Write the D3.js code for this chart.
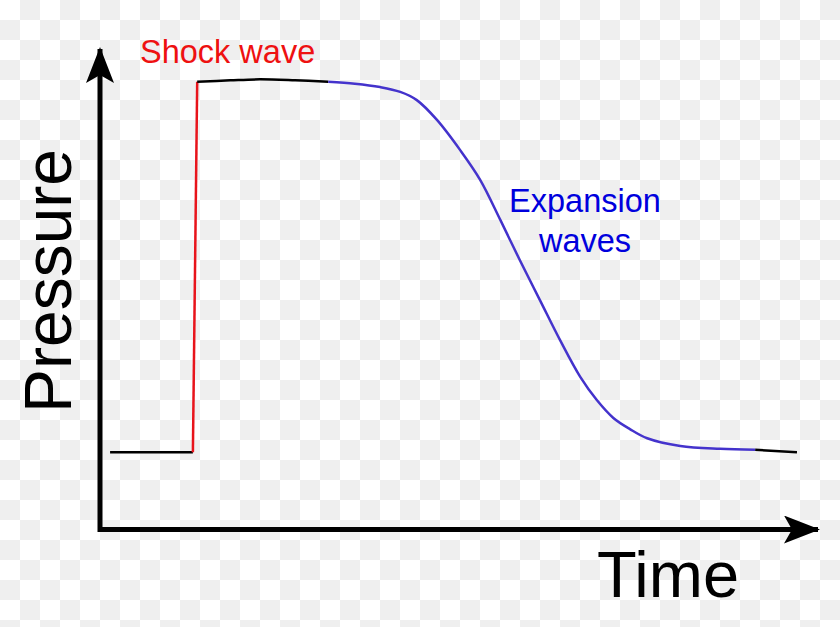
<!DOCTYPE html>
<html>
<head>
<meta charset="utf-8">
<script src="https://cdn.jsdelivr.net/npm/d3@7"></script>
<style>
  html, body { margin: 0; padding: 0; background: #fff; }
  svg { display: block; }
  text { font-family: "Liberation Sans", Arial, sans-serif; }
</style>
</head>
<body>
<div id="chart"></div>
<script>
// time / pressure (arbitrary units, 0..100)
const baseTime = [1.4, 12.9];
const basePressure = [16.1, 16.1];

const shockTime = [12.9, 13.5];
const shockPressure = [16.1, 92.8];

const plateauTime = [13.5, 18.1, 22.2, 27.1, 31.7];
const plateauPressure = [92.8, 93.1, 93.3, 93.1, 92.8];

const expansionTime = [31.7, 35.4, 38.9, 41.7, 44.0, 46.8, 50.0, 52.8, 55.6, 58.3, 61.1, 63.9, 66.7, 69.0, 71.3, 73.6, 76.0, 80.6, 86.1, 91.0];
const expansionPressure = [92.8, 92.4, 91.7, 90.7, 89.0, 84.9, 78.7, 72.5, 64.2, 55.9, 47.6, 39.3, 31.7, 26.9, 23.2, 20.9, 19.0, 17.4, 16.8, 16.6];

const tailTime = [91.0, 96.8];
const tailPressure = [16.6, 16.1];

const width = 840, height = 627;

const svg = d3.select("#chart")
  .append("svg")
  .attr("width", width)
  .attr("height", height);

// checkerboard backdrop, 20px cells
svg.append("rect").attr("width", width).attr("height", height).attr("fill", "#ffffff");
const cells = [];
for (let r = 0; r < Math.ceil(height / 20); r++) {
  for (let c = 0; c < Math.ceil(width / 20); c++) {
    if ((r + c) % 2 === 1) cells.push([c, r]);
  }
}
svg.append("g").selectAll("rect")
  .data(cells)
  .join("rect")
  .attr("x", d => d[0] * 20)
  .attr("y", d => d[1] * 20)
  .attr("width", 20)
  .attr("height", 20)
  .attr("fill", "#efefef");

const defs = svg.append("defs");

const x = d3.scaleLinear().domain([0, 100]).range([100, 820]);
const y = d3.scaleLinear().domain([0, 100]).range([530, 47]);

// arrow head
defs.append("marker")
  .attr("id", "arrowHead")
  .attr("viewBox", "0 0 36 28")
  .attr("refX", 34)
  .attr("refY", 14)
  .attr("markerWidth", 36)
  .attr("markerHeight", 28)
  .attr("markerUnits", "userSpaceOnUse")
  .attr("orient", "auto")
  .append("path")
  .attr("d", "M36,14 L0,0 L8,14 L0,28 Z")
  .attr("fill", "#000");

// axes
svg.append("line")
  .attr("x1", x(0)).attr("y1", y(0) - 0.5)
  .attr("x2", x(100) - 2).attr("y2", y(0) - 0.5)
  .attr("stroke", "#000").attr("stroke-width", 5)
  .attr("marker-end", "url(#arrowHead)");

svg.append("line")
  .attr("x1", x(0)).attr("y1", y(0) + 2)
  .attr("x2", x(0)).attr("y2", y(100) + 2)
  .attr("stroke", "#000").attr("stroke-width", 5)
  .attr("marker-end", "url(#arrowHead)");

const line = d3.line()
  .x(d => x(d[0]))
  .y(d => y(d[1]));

const smooth = d3.line()
  .x(d => x(d[0]))
  .y(d => y(d[1]))
  .curve(d3.curveCatmullRom.alpha(0.5));

const zip = (a, b) => a.map((v, i) => [v, b[i]]);

svg.append("path").datum(zip(baseTime, basePressure))
  .attr("d", line).attr("fill", "none").attr("stroke", "#000").attr("stroke-width", 2.5);

svg.append("path").datum(zip(shockTime, shockPressure))
  .attr("d", line).attr("fill", "none").attr("stroke", "#e8141b").attr("stroke-width", 2.5);

svg.append("path").datum(zip(plateauTime, plateauPressure))
  .attr("d", smooth).attr("fill", "none").attr("stroke", "#000").attr("stroke-width", 2.5);

svg.append("path").datum(zip(expansionTime, expansionPressure))
  .attr("d", smooth).attr("fill", "none").attr("stroke", "#4433cc").attr("stroke-width", 2.5);

svg.append("path").datum(zip(tailTime, tailPressure))
  .attr("d", line).attr("fill", "none").attr("stroke", "#000").attr("stroke-width", 2.5);

// labels
svg.append("text")
  .attr("x", 140).attr("y", 63)
  .attr("font-size", 32.5)
  .attr("fill", "#ee1111")
  .text("Shock wave");

const exp = svg.append("text")
  .attr("font-size", 32.5)
  .attr("fill", "#0000dd")
  .attr("text-anchor", "middle");
exp.append("tspan").attr("x", 585).attr("y", 212).text("Expansion");
exp.append("tspan").attr("x", 585).attr("y", 252).text("waves");

svg.append("text")
  .attr("transform", "translate(71,281) rotate(-90)")
  .attr("text-anchor", "middle")
  .attr("font-size", 66)
  .attr("fill", "#000")
  .text("Pressure");

svg.append("text")
  .attr("x", 597).attr("y", 597)
  .attr("font-size", 65)
  .attr("fill", "#000")
  .text("Time");
</script>
</body>
</html>
